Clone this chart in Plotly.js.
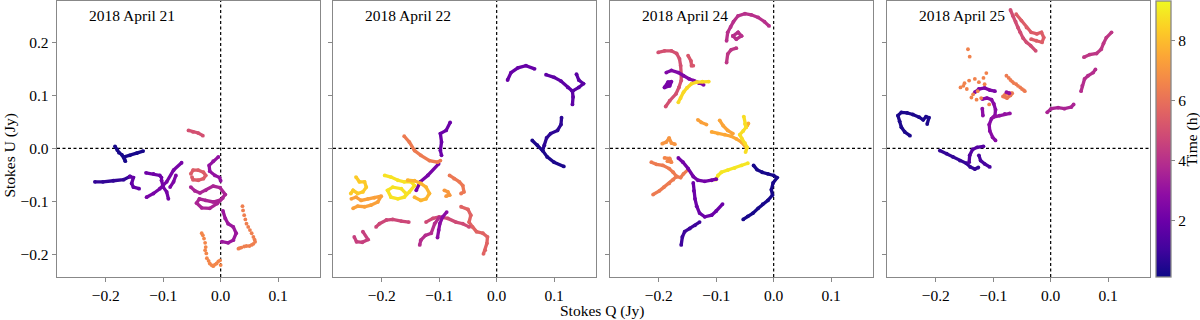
<!DOCTYPE html>
<html>
<head>
<meta charset="utf-8">
<script src="https://cdn.plot.ly/plotly-3.0.1.min.js"></script>
<style>html,body{margin:0;padding:0;background:#fff}#chart{width:1200px;height:320px}</style>
</head>
<body>
<div id="chart"></div>
<script>
// ---------------- DATA ----------------
const panelTitles = ["2018 April 21", "2018 April 22", "2018 April 24", "2018 April 25"];
const xTickVals = [-0.2, -0.1, 0.0, 0.1];
const xTickText = ["\u22120.2", "\u22120.1", "0.0", "0.1"];
const yTickVals = [-0.2, -0.1, 0.0, 0.1, 0.2];
const yTickText = ["\u22120.2", "\u22120.1", "0.0", "0.1", "0.2"];
const cbTickVals = [2, 4, 6, 8];
const timeRange = [0.13, 9.3];

// Each track: id, time (h), Stokes Q (Jy), Stokes U (Jy)
const apr21 = [
  {id:"21A", t:0.3, q:[-0.184,-0.180,-0.177,-0.172,-0.166,-0.168,-0.158,-0.146,-0.135], u:[0.004,-0.003,-0.008,-0.012,-0.024,-0.016,-0.013,-0.009,-0.005]},
  {id:"21B1", t:0.8, q:[-0.219,-0.205,-0.187,-0.169,-0.158], u:[-0.063,-0.063,-0.061,-0.059,-0.053]},
  {id:"21B2", t:1.8, q:[-0.158,-0.152,-0.155,-0.152,-0.142], u:[-0.053,-0.055,-0.066,-0.073,-0.076]},
  {id:"21C1", t:2.1, q:[-0.130,-0.117,-0.106,-0.103], u:[-0.046,-0.048,-0.051,-0.055]},
  {id:"21C2", t:2.3, q:[-0.129,-0.117,-0.106,-0.094,-0.082,-0.068], u:[-0.092,-0.085,-0.076,-0.063,-0.041,-0.027]},
  {id:"21C3", t:2.2, q:[-0.103,-0.100,-0.094,-0.091], u:[-0.060,-0.073,-0.082,-0.095]},
  {id:"21C4", t:2.4, q:[-0.088,-0.082,-0.078], u:[-0.073,-0.063,-0.051]},
  {id:"21D1", t:3.0, q:[-0.004,-0.013,-0.020,-0.019,-0.010,-0.002,0.000], u:[-0.016,-0.024,-0.032,-0.043,-0.051,-0.055,-0.061]},
  {id:"21D2", t:3.6, q:[-0.052,-0.045,-0.036,-0.026,-0.013,-0.001,0.008,0.000,-0.013,-0.026,-0.037,-0.042,-0.033,-0.019,-0.006,0.004],
                    u:[-0.073,-0.080,-0.084,-0.079,-0.071,-0.074,-0.087,-0.097,-0.101,-0.098,-0.095,-0.103,-0.112,-0.113,-0.104,-0.093]},
  {id:"21D3", t:3.2, q:[0.004,0.008,0.013,0.022,0.027,0.022,0.013,0.002], u:[-0.118,-0.132,-0.142,-0.148,-0.160,-0.173,-0.178,-0.176]},
  {id:"21E", t:5.0, q:[-0.056,-0.048,-0.039,-0.031], u:[0.034,0.031,0.029,0.024]},
  {id:"21F", t:5.4, q:[-0.052,-0.048,-0.039,-0.030,-0.026,-0.030,-0.039,-0.048,-0.050], u:[-0.048,-0.041,-0.041,-0.045,-0.051,-0.057,-0.060,-0.059,-0.054]},
  {id:"21G", t:6.6, q:[-0.033,-0.031,-0.029,-0.027,-0.026,-0.027,-0.025,-0.024,-0.021,-0.019,-0.016,-0.013,-0.010,-0.007,-0.004,-0.001,0.000],
                    u:[-0.160,-0.164,-0.170,-0.178,-0.186,-0.192,-0.198,-0.207,-0.212,-0.217,-0.220,-0.222,-0.219,-0.217,-0.213,-0.211,-0.220]},
  {id:"21H", t:6.4, q:[0.038,0.039,0.041,0.043,0.045,0.048,0.051,0.054,0.057,0.059,0.060,0.057,0.054,0.050,0.045,0.041,0.036,0.033,0.031],
                    u:[-0.109,-0.117,-0.126,-0.134,-0.142,-0.148,-0.154,-0.160,-0.167,-0.172,-0.176,-0.180,-0.182,-0.184,-0.184,-0.185,-0.187,-0.188,-0.189]}
];

const apr22 = [
  {id:"22A", t:2.0, q:[-0.081,-0.088,-0.098,-0.096,-0.098,-0.096], u:[0.049,0.034,0.028,0.012,-0.004,-0.013]},
  {id:"22B", t:2.3, q:[-0.101,-0.120,-0.133,-0.140], u:[-0.029,-0.051,-0.063,-0.079]},
  {id:"22C", t:6.3, q:[-0.161,-0.152,-0.143,-0.132,-0.117,-0.103,-0.098], u:[0.023,0.012,-0.004,-0.013,-0.023,-0.026,-0.023]},
  {id:"22D1", t:8.3, q:[-0.245,-0.239,-0.230,-0.227,-0.233,-0.242,-0.250,-0.254], u:[-0.054,-0.063,-0.063,-0.073,-0.082,-0.085,-0.079,-0.085]},
  {id:"22D2", t:7.3, q:[-0.253,-0.245,-0.236,-0.224,-0.213,-0.201,-0.207,-0.219,-0.230,-0.242,-0.250], u:[-0.095,-0.092,-0.098,-0.095,-0.093,-0.090,-0.101,-0.107,-0.110,-0.109,-0.113]},
  {id:"22E1", t:8.8, q:[-0.195,-0.184,-0.172,-0.161,-0.149,-0.143,-0.152,-0.161,-0.172,-0.184,-0.190,-0.181,-0.166,-0.158],
                     u:[-0.051,-0.054,-0.060,-0.063,-0.063,-0.070,-0.082,-0.092,-0.095,-0.092,-0.079,-0.073,-0.076,-0.085]},
  {id:"22E2", t:7.8, q:[-0.143,-0.132,-0.123,-0.117,-0.123,-0.132,-0.143,-0.155], u:[-0.092,-0.098,-0.095,-0.085,-0.073,-0.066,-0.061,-0.060]},
  {id:"22F", t:7.1, q:[-0.091,-0.085,-0.082,-0.088], u:[-0.079,-0.082,-0.088,-0.090]},
  {id:"22G", t:6.2, q:[-0.082,-0.074,-0.065,-0.059,-0.057,-0.062], u:[-0.051,-0.057,-0.063,-0.070,-0.082,-0.085]},
  {id:"22H", t:5.6, q:[-0.062,-0.050,-0.045,-0.048,-0.042,-0.035,-0.024,-0.016,-0.017,-0.020,-0.023], u:[-0.110,-0.115,-0.126,-0.139,-0.148,-0.157,-0.160,-0.167,-0.179,-0.192,-0.199]},
  {id:"22I", t:4.8, q:[-0.123,-0.111,-0.100,-0.085,-0.071,-0.059,-0.048], u:[-0.139,-0.132,-0.129,-0.132,-0.139,-0.142,-0.148]},
  {id:"22J", t:3.9, q:[-0.134,-0.132,-0.124,-0.114,-0.108,-0.100], u:[-0.182,-0.173,-0.164,-0.160,-0.142,-0.130]},
  {id:"22K", t:2.8, q:[-0.103,-0.101,-0.099,-0.094,-0.087], u:[-0.168,-0.154,-0.142,-0.129,-0.120]},
  {id:"22L", t:4.5, q:[-0.248,-0.244,-0.234,-0.224,-0.233], u:[-0.167,-0.176,-0.177,-0.172,-0.157]},
  {id:"22M", t:4.7, q:[-0.210,-0.204,-0.192,-0.181,-0.166,-0.153], u:[-0.148,-0.142,-0.135,-0.134,-0.137,-0.139]},
  {id:"22N", t:1.9, q:[0.019,0.025,0.037,0.051,0.066], u:[0.129,0.143,0.152,0.156,0.150]},
  {id:"22O1", t:1.7, q:[0.086,0.100,0.112,0.124,0.132,0.133,0.132], u:[0.139,0.134,0.127,0.115,0.108,0.097,0.083]},
  {id:"22O2", t:1.6, q:[0.139,0.143,0.151,0.143,0.132], u:[0.140,0.129,0.122,0.115,0.108]},
  {id:"22P1", t:0.7, q:[0.113,0.112,0.106,0.094,0.087,0.083,0.080], u:[0.058,0.045,0.034,0.028,0.020,0.006,-0.004]},
  {id:"22P2", t:0.4, q:[0.062,0.071,0.080,0.088,0.100,0.117], u:[0.015,0.006,-0.004,-0.016,-0.026,-0.034]}
];

const apr24 = [
  {id:"24A1", t:4.0, q:[-0.082,-0.080,-0.075,-0.070,-0.062,-0.050,-0.039,-0.027,-0.016,-0.008], u:[0.203,0.219,0.229,0.239,0.250,0.254,0.252,0.247,0.239,0.231]},
  {id:"24A2", t:4.0, q:[-0.071,-0.062,-0.056,-0.065,-0.071], u:[0.212,0.219,0.212,0.206,0.212]},
  {id:"24A3", t:4.2, q:[-0.082,-0.080,-0.074,-0.065], u:[0.162,0.178,0.186,0.189]},
  {id:"24B", t:5.0, q:[-0.201,-0.190,-0.178,-0.169,-0.164,-0.162,-0.161,-0.161,-0.165,-0.170,-0.181,-0.188], u:[0.181,0.184,0.184,0.179,0.169,0.156,0.140,0.128,0.115,0.103,0.090,0.079]},
  {id:"24C", t:5.2, q:[-0.149,-0.144,-0.143,-0.140], u:[0.175,0.165,0.156,0.156]},
  {id:"24D1", t:2.5, q:[-0.187,-0.178,-0.166,-0.157,-0.147,-0.139,-0.130,-0.122], u:[0.143,0.147,0.143,0.137,0.131,0.128,0.123,0.120]},
  {id:"24D2", t:2.3, q:[-0.190,-0.184,-0.178,-0.181,-0.190], u:[0.115,0.125,0.126,0.118,0.115]},
  {id:"24E", t:8.6, q:[-0.166,-0.162,-0.157,-0.151,-0.143,-0.134,-0.124,-0.113], u:[0.087,0.095,0.106,0.114,0.122,0.125,0.126,0.126]},
  {id:"24F1", t:7.3, q:[-0.132,-0.126,-0.117], u:[0.054,0.049,0.045]},
  {id:"24F2", t:7.5, q:[-0.108,-0.097,-0.085,-0.074,-0.065,-0.056,-0.048], u:[0.031,0.028,0.026,0.023,0.018,0.012,0.002]},
  {id:"24F3", t:7.4, q:[-0.094,-0.088,-0.080,-0.071], u:[0.053,0.043,0.034,0.028]},
  {id:"24F4", t:7.6, q:[-0.048,-0.046,-0.044], u:[0.040,0.043,0.047]},
  {id:"24F5", t:8.7, q:[-0.052,-0.050,-0.048,-0.053,-0.059,-0.055,-0.050,-0.046,-0.049], u:[0.060,0.046,0.040,0.033,0.026,0.018,0.010,0.002,-0.007]},
  {id:"24G", t:8.9, q:[-0.101,-0.097,-0.091,-0.080,-0.068,-0.056,-0.045], u:[-0.059,-0.051,-0.045,-0.041,-0.037,-0.032,-0.028]},
  {id:"24H", t:7.0, q:[-0.194,-0.187,-0.182,-0.178,-0.172], u:[0.009,0.012,0.020,0.010,0.008]},
  {id:"24I1", t:6.6, q:[-0.190,-0.181,-0.178,-0.185], u:[-0.018,-0.019,-0.026,-0.024]},
  {id:"24I2", t:6.3, q:[-0.213,-0.204,-0.193,-0.182,-0.175,-0.169,-0.162,-0.157,-0.149], u:[-0.026,-0.030,-0.032,-0.038,-0.045,-0.053,-0.055,-0.048,-0.040]},
  {id:"24I3", t:6.3, q:[-0.169,-0.175,-0.182,-0.191,-0.199,-0.210], u:[-0.053,-0.059,-0.066,-0.073,-0.080,-0.087]},
  {id:"24J1", t:2.2, q:[-0.166,-0.158,-0.149,-0.140,-0.132,-0.120,-0.108,-0.100], u:[-0.018,-0.026,-0.038,-0.053,-0.060,-0.062,-0.060,-0.058]},
  {id:"24J2", t:2.0, q:[-0.140,-0.139,-0.137,-0.134,-0.129,-0.120,-0.108,-0.100,-0.089], u:[-0.065,-0.080,-0.095,-0.109,-0.122,-0.129,-0.126,-0.118,-0.105]},
  {id:"24K", t:1.0, q:[-0.129,-0.137,-0.146,-0.155,-0.159,-0.161], u:[-0.139,-0.145,-0.151,-0.157,-0.167,-0.182]},
  {id:"24L", t:0.3, q:[-0.035,-0.029,-0.020,-0.010,0.000,0.006,-0.001,-0.004,-0.002,-0.010,-0.019,-0.027,-0.036,-0.045,-0.053],
                   u:[-0.032,-0.040,-0.045,-0.048,-0.051,-0.055,-0.065,-0.078,-0.088,-0.098,-0.105,-0.113,-0.122,-0.128,-0.134]}
];

const apr25 = [
  {id:"25A", t:0.4, q:[-0.245,-0.254,-0.260,-0.263,-0.266,-0.260,-0.250,-0.240,-0.229,-0.222,-0.217,-0.212,-0.215], u:[0.024,0.031,0.040,0.051,0.062,0.068,0.067,0.064,0.059,0.054,0.060,0.058,0.046]},
  {id:"25B1", t:0.8, q:[-0.193,-0.181,-0.170,-0.158,-0.147,-0.140,-0.132,-0.126], u:[-0.004,-0.010,-0.016,-0.023,-0.028,-0.035,-0.039,-0.036]},
  {id:"25B2", t:1.5, q:[-0.142,-0.141,-0.136,-0.128,-0.117], u:[-0.026,-0.013,-0.002,0.002,0.004]},
  {id:"25B3", t:1.2, q:[-0.125,-0.122,-0.115,-0.106], u:[-0.013,-0.023,-0.029,-0.035]},
  {id:"25C1", t:2.4, q:[-0.132,-0.125,-0.115,-0.106,-0.097], u:[0.106,0.112,0.114,0.110,0.108]},
  {id:"25C2", t:2.7, q:[-0.119,-0.111,-0.103,-0.099,-0.096,-0.097,-0.103,-0.107,-0.106,-0.101,-0.096], u:[0.093,0.095,0.092,0.084,0.073,0.062,0.056,0.045,0.033,0.021,0.015]},
  {id:"25C3", t:2.8, q:[-0.119,-0.118], u:[0.075,0.062]},
  {id:"25C4", t:3.0, q:[-0.100,-0.089,-0.080,-0.071], u:[0.059,0.062,0.065,0.066]},
  {id:"25D", t:6.5, q:[-0.144,-0.141,-0.157,-0.150,-0.142,-0.132,-0.125,-0.117,-0.112,-0.138,-0.129,-0.121,-0.107,-0.152,-0.146,-0.135,-0.127,-0.115],
                   u:[0.187,0.173,0.115,0.123,0.128,0.131,0.125,0.133,0.142,0.096,0.092,0.095,0.083,0.118,0.112,0.102,0.108,0.121]},
  {id:"25E1", t:6.3, q:[-0.077,-0.073,-0.070,-0.067,-0.064,-0.060,-0.057,-0.053,-0.050,-0.047,-0.045], u:[0.137,0.133,0.129,0.126,0.123,0.121,0.118,0.115,0.112,0.110,0.108]},
  {id:"25E2", t:6.2, q:[-0.083,-0.076,-0.070,-0.067,-0.074,-0.080], u:[0.098,0.095,0.100,0.104,0.104,0.101]},
  {id:"25E3", t:3.0, q:[-0.077,-0.072], u:[0.106,0.104]},
  {id:"25F1", t:4.9, q:[-0.070,-0.066,-0.061,-0.057,-0.053,-0.048,-0.042,-0.035,-0.026], u:[0.261,0.250,0.239,0.228,0.219,0.208,0.200,0.194,0.184]},
  {id:"25F2", t:5.4, q:[-0.060,-0.051,-0.042,-0.034,-0.024,-0.016,-0.012,-0.015,-0.025,-0.034], u:[0.253,0.241,0.228,0.219,0.216,0.219,0.209,0.200,0.203,0.206]},
  {id:"25G1", t:3.6, q:[-0.006,0.001,0.013,0.024,0.036,0.040], u:[0.068,0.075,0.077,0.075,0.078,0.083]},
  {id:"25G2", t:3.9, q:[0.053,0.055,0.059,0.065,0.074,0.078], u:[0.108,0.118,0.131,0.137,0.143,0.149]},
  {id:"25G3", t:4.2, q:[0.058,0.068,0.080,0.088,0.092,0.097,0.106], u:[0.172,0.177,0.179,0.187,0.198,0.209,0.219]}
];

// ---------------- STYLE ----------------
const dottedTracks = new Set(["21G", "21H", "25D", "25E1"]);
const PLASMA = [
  [0.0, "#0d0887"], [0.1, "#41049d"], [0.2, "#6a00a8"], [0.3, "#8f0da4"],
  [0.4, "#b12a90"], [0.5, "#cc4778"], [0.6, "#e16462"], [0.7, "#f2844b"],
  [0.8, "#fca636"], [0.9, "#fcce25"], [1.0, "#f0f921"]
];
function hexToRgb(h) { return [parseInt(h.slice(1,3),16), parseInt(h.slice(3,5),16), parseInt(h.slice(5,7),16)]; }
function plasmaColor(t) {
  let f = (t - timeRange[0]) / (timeRange[1] - timeRange[0]);
  f = Math.max(0, Math.min(1, f));
  for (let i = 0; i < PLASMA.length - 1; i++) {
    const [f0, c0] = PLASMA[i], [f1, c1] = PLASMA[i + 1];
    if (f <= f1) {
      const a = (f - f0) / (f1 - f0), A = hexToRgb(c0), B = hexToRgb(c1);
      return "rgb(" + A.map((v, k) => Math.round(v + a * (B[k] - v))).join(",") + ")";
    }
  }
  return PLASMA[PLASMA.length - 1][1];
}

const FONT = "Liberation Serif, DejaVu Serif, serif";
const panels = [apr21, apr22, apr24, apr25];
const domains = [[57/1200, 320/1200], [333/1200, 596/1200], [610/1200, 873/1200], [887/1200, 1150/1200]];
const xRange = [-0.285, 0.173];
const yRange = [-0.2425, 0.278];

const traces = [];
let first = true;
panels.forEach((tracks, k) => {
  const xa = "x" + (k ? k + 1 : ""), ya = "y" + (k ? k + 1 : "");
  tracks.forEach(tr => {
    const dotted = dottedTracks.has(tr.id);
    traces.push({
      type: "scatter", xaxis: xa, yaxis: ya, x: tr.q, y: tr.u,
      mode: dotted ? "markers" : "lines+markers",
      line: {color: plasmaColor(tr.t), width: 3.3},
      marker: {
        size: dotted ? 3.8 : 3.8, color: tr.q.map(() => tr.t),
        colorscale: PLASMA, cmin: timeRange[0], cmax: timeRange[1],
        showscale: first,
        colorbar: first ? {
          x: 1156/1200, xanchor: "left", xref: "paper", xpad: 0,
          y: 0.5, yanchor: "middle", len: 1, lenmode: "fraction", ypad: 0,
          thickness: 15, outlinecolor: "#888", outlinewidth: 1.3,
          tickvals: cbTickVals, ticks: "outside", ticklen: 4, tickcolor: "#888",
          tickfont: {family: FONT, size: 15.5, color: "#000"}
        } : undefined
      },
      hoverinfo: "skip", showlegend: false
    });
    first = false;
  });
});

const layout = {
  width: 1200, height: 320,
  margin: {l: 0, r: 0, t: 1, b: 43},
  paper_bgcolor: "#fff", plot_bgcolor: "#fff",
  font: {family: FONT, size: 15, color: "#000"},
  showlegend: false, shapes: [], annotations: []
};
domains.forEach((d, k) => {
  const sfx = k ? String(k + 1) : "";
  layout["xaxis" + sfx] = {
    domain: d, range: xRange, anchor: "y" + sfx,
    showgrid: false, zeroline: false, showline: true, mirror: true,
    linecolor: "#888", linewidth: 1.3,
    ticks: "outside", ticklen: 4, tickcolor: "#888", tickwidth: 1,
    tickvals: xTickVals, ticktext: xTickText,
    tickfont: {family: FONT, size: 15.5, color: "#000"}
  };
  layout["yaxis" + sfx] = {
    domain: [0, 1], range: yRange, anchor: "x" + sfx,
    showgrid: false, zeroline: false, showline: true, mirror: true,
    linecolor: "#888", linewidth: 1.3,
    ticks: "outside", ticklen: 4, tickcolor: "#888", tickwidth: 1,
    tickvals: yTickVals, ticktext: yTickText, showticklabels: k === 0,
    tickfont: {family: FONT, size: 15.5, color: "#000"}
  };
  const xr = "x" + sfx, yr = "y" + sfx;
  layout.shapes.push({type: "line", xref: xr, yref: yr + " domain", x0: 0, x1: 0, y0: 0, y1: 1,
    line: {color: "#000", width: 1.2, dash: "3px,2.5px"}, layer: "below"});
  layout.shapes.push({type: "line", xref: xr + " domain", yref: yr, x0: 0, x1: 1, y0: 0, y1: 0,
    line: {color: "#000", width: 1.2, dash: "3px,2.5px"}, layer: "below"});
  layout.annotations.push({text: panelTitles[k], xref: xr + " domain", yref: yr + " domain",
    x: 30/263, y: 0.948, xanchor: "left", yanchor: "middle", showarrow: false,
    font: {family: FONT, size: 15.5, color: "#000"}});
});
layout.annotations.push({text: "Stokes Q (Jy)", xref: "paper", yref: "paper", x: 602/1200, y: -0.123,
  xanchor: "center", yanchor: "middle", showarrow: false, font: {family: FONT, size: 15.5}});
layout.annotations.push({text: "Stokes U (Jy)", xref: "paper", yref: "paper", x: 10/1200, y: 0.44,
  xanchor: "center", yanchor: "middle", textangle: -90, showarrow: false, font: {family: FONT, size: 15.5}});
layout.annotations.push({text: "Time (h)", xref: "paper", yref: "paper", x: 1192/1200, y: 0.498,
  xanchor: "center", yanchor: "middle", textangle: -90, showarrow: false, font: {family: FONT, size: 15.5}});

Plotly.newPlot("chart", traces, layout, {staticPlot: true, displayModeBar: false});
</script>
</body>
</html>
